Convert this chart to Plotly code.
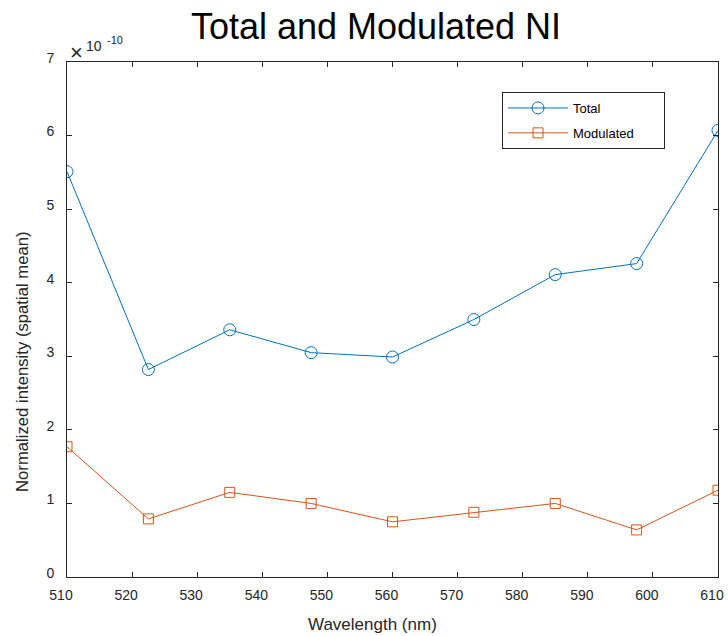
import plotly.graph_objects as go

# Data (values in units of 1e-10)
wavelength_nm = [510, 522.5, 535, 547.5, 560, 572.5, 585, 597.5, 610]
total_ni = [5.51, 2.82, 3.36, 3.05, 2.99, 3.50, 4.11, 4.26, 6.07]
modulated_ni = [1.77, 0.79, 1.15, 1.00, 0.75, 0.88, 1.00, 0.64, 1.18]
x_ticks = [510, 520, 530, 540, 550, 560, 570, 580, 590, 600, 610]
y_ticks = [0, 1, 2, 3, 4, 5, 6, 7]

BLUE = "#0072BD"
ORANGE = "#D95319"
AX = "#262626"
FONT = "Liberation Sans, Arial, Helvetica, sans-serif"

fig = go.Figure()
fig.add_trace(go.Scatter(
    x=wavelength_nm, y=total_ni, name="Total", mode="lines+markers",
    line=dict(color=BLUE, width=1),
    marker=dict(symbol="circle-open", size=12, color=BLUE, line=dict(width=1)),
    legendgroup="a",
))
fig.add_trace(go.Scatter(
    x=wavelength_nm, y=modulated_ni, name="Modulated\u00a0\u00a0\u00a0\u00a0\u00a0\u00a0\u00a0",
    mode="lines+markers",
    line=dict(color=ORANGE, width=1),
    marker=dict(symbol="square-open", size=10, color=ORANGE, line=dict(width=1)),
    legendgroup="b",
))

W, H = 728, 636
L, R, T, B = 67, 10, 62, 59
pw, ph = W - L - R, H - T - B

def px_x(x):
    return (x - L) / pw

def px_y(y):
    return (H - B - y) / ph

axis_common = dict(
    showline=True, linecolor=AX, linewidth=1, mirror="ticks",
    ticks="inside", ticklen=5, tickcolor=AX, tickwidth=1,
    showgrid=False, zeroline=False,
    tickfont=dict(family=FONT, size=14, color=AX),
    ticklabeloverflow="allow", automargin=False,
)

fig.update_layout(
    width=W, height=H,
    margin=dict(l=L, r=R, t=T, b=B, autoexpand=False),
    paper_bgcolor="white", plot_bgcolor="white",
    font=dict(family=FONT, color=AX),
    title=dict(
        text="Total and Modulated NI", x=376 / W, xanchor="center",
        y=1 - 26 / H, yanchor="middle", yref="container",
        font=dict(family=FONT, size=36, color="black"),
    ),
    xaxis=dict(range=[510, 610], tickvals=x_ticks, ticklabelshift=-6,
               ticklabelstandoff=5, **axis_common),
    yaxis=dict(range=[0, 7], tickvals=y_ticks, ticklabelshift=-4,
               ticklabelstandoff=9, **axis_common),
    showlegend=True,
    legend=dict(
        x=px_x(502), y=px_y(92), xanchor="left", yanchor="top",
        bordercolor=AX, borderwidth=1, bgcolor="white",
        font=dict(family=FONT, size=13, color="black"),
        itemwidth=60, tracegroupgap=5,
    ),
    annotations=[
        dict(text="×", x=px_x(68), y=px_y(52),
             xref="paper", yref="paper", xanchor="left", yanchor="middle",
             showarrow=False, font=dict(family=FONT, size=22, color=AX)),
        dict(text="10", x=px_x(84), y=px_y(46),
             xref="paper", yref="paper", xanchor="left", yanchor="middle",
             showarrow=False, font=dict(family=FONT, size=14, color=AX)),
        dict(text="-10", x=px_x(105), y=px_y(40),
             xref="paper", yref="paper", xanchor="left", yanchor="middle",
             showarrow=False, font=dict(family=FONT, size=11, color=AX)),
        dict(text="Wavelength (nm)", x=px_x(372), y=px_y(624),
             xref="paper", yref="paper", xanchor="center", yanchor="middle",
             showarrow=False, font=dict(family=FONT, size=17, color=AX)),
        dict(text="Normalized intensity (spatial mean)", x=px_x(22), y=px_y(362),
             xref="paper", yref="paper", xanchor="center", yanchor="middle",
             textangle=-90, showarrow=False,
             font=dict(family=FONT, size=16.7, color=AX)),
    ],
)

fig.write_html("out.html")
